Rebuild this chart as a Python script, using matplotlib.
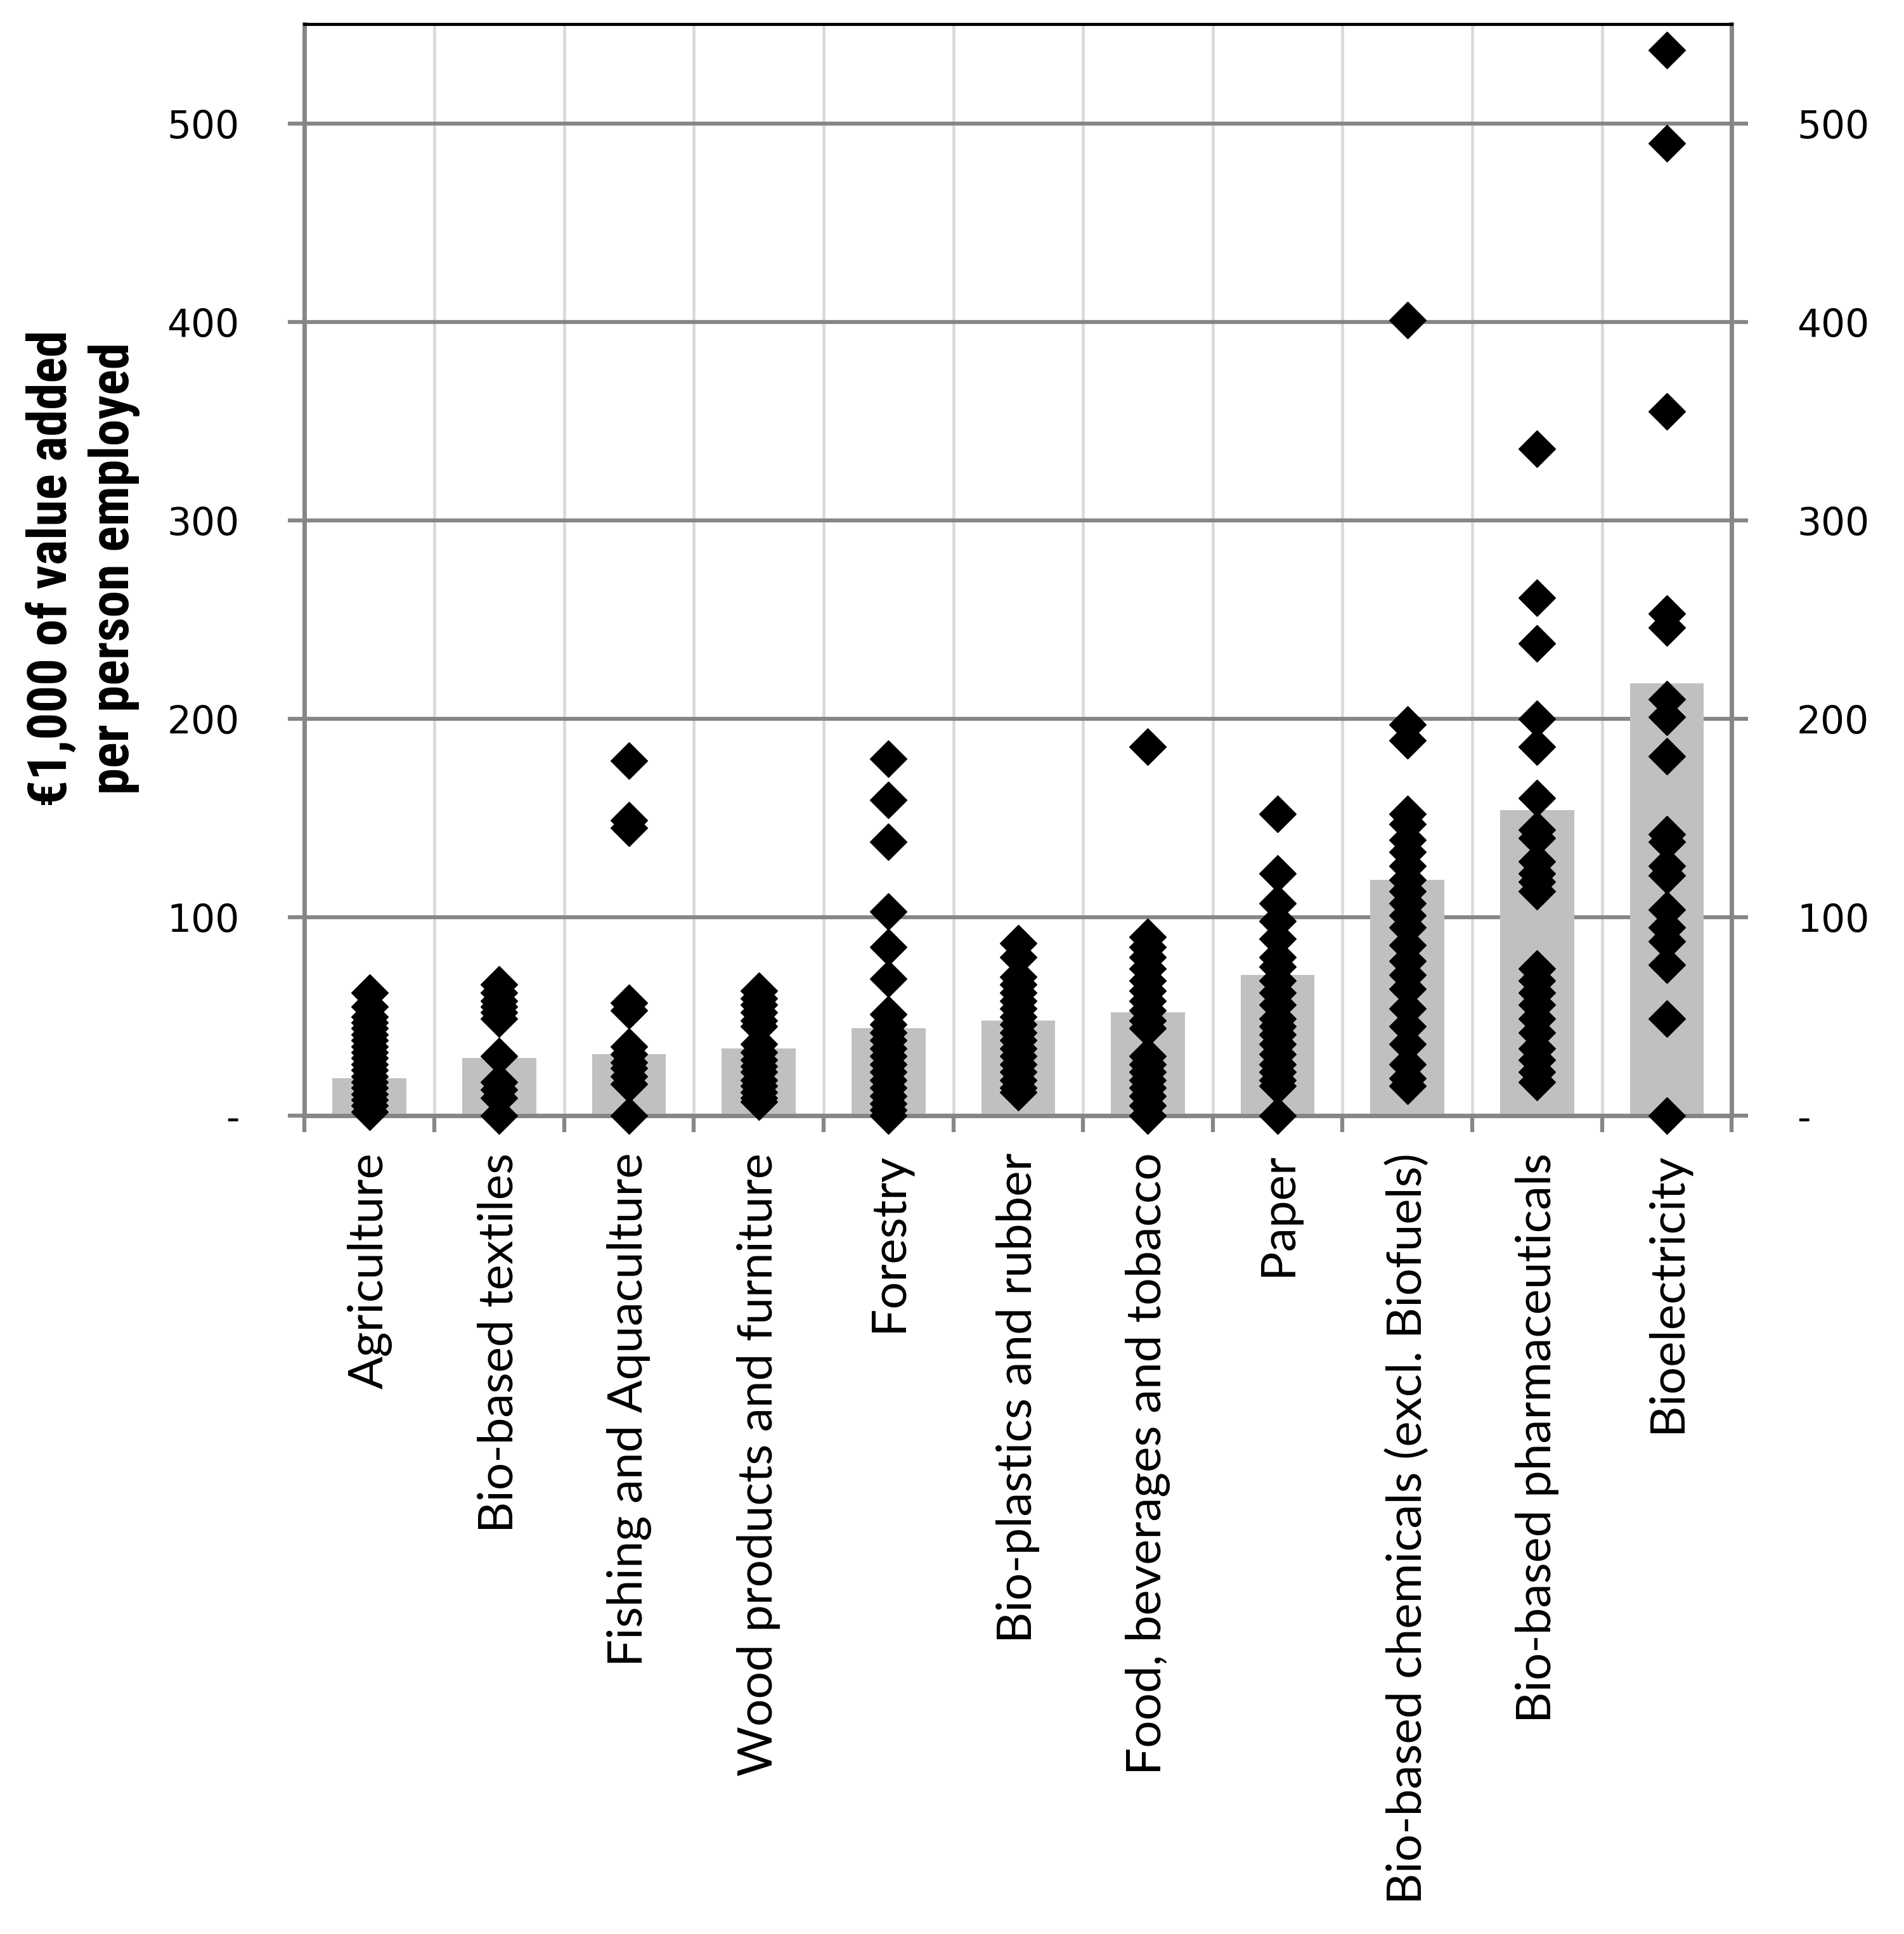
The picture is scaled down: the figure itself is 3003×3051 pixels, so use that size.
import matplotlib
matplotlib.use('Agg')
import matplotlib.pyplot as plt
import numpy as np

# sector names (x axis)
categories = ['Agriculture', 'Bio-based textiles', 'Fishing and Aquaculture',
              'Wood products and furniture', 'Forestry', 'Bio-plastics and rubber',
              'Food, beverages and tobacco', 'Paper', 'Bio-based chemicals (excl. Biofuels)',
              'Bio-based pharmaceuticals', 'Bioelectricity']

# grey bars (EU average)
bar_values = [19, 29, 31, 34, 44, 48, 52, 71, 119, 154, 218]

# black diamonds, one list per sector (member states)
agriculture = [62, 55, 50, 47, 44, 41, 38, 35, 32, 29, 26, 23, 20, 17, 14, 11, 8, 5, 2]
textiles = [66, 62, 58, 55, 52, 49, 30, 17, 13, 9, 0]
fishing = [179, 149, 145, 57, 53, 35, 31, 27, 24, 20, 16, 0]
wood = [63, 59, 56, 52, 48, 45, 36, 32, 28, 25, 22, 18, 15, 12, 9, 7]
forestry = [180, 159, 138, 103, 85, 69, 51, 46, 42, 38, 34, 30, 26, 22, 18, 14, 10, 6, 3, 0]
plastics = [87, 80, 70, 66, 62, 58, 54, 50, 46, 42, 38, 34, 30, 26, 22, 18, 14, 12]
food = [186, 90, 85, 80, 74, 68, 63, 58, 53, 48, 44, 30, 26, 22, 18, 14, 10, 5, 0]
paper = [152, 122, 107, 98, 89, 80, 75, 68, 62, 56, 49, 45, 41, 36, 31, 26, 22, 18, 15, 0]
chemicals = [401, 197, 189, 152, 147, 139, 133, 126, 119, 113, 107, 101, 95, 86, 78, 71,
             64, 54, 45, 36, 26, 19, 15]
pharma = [336, 261, 238, 200, 186, 160, 144, 140, 128, 122, 118, 113, 74, 68, 62, 56,
          49, 42, 34, 28, 22, 17]
bioelectricity = [537, 490, 355, 253, 246, 210, 201, 181, 142, 138, 126, 121, 104, 95,
                  88, 76, 49, 0]

points = [agriculture, textiles, fishing, wood, forestry, plastics, food, paper,
          chemicals, pharma, bioelectricity]

ytick_vals = [0, 100, 200, 300, 400, 500]
ytick_labels = ['-', '100', '200', '300', '400', '500']

GRID = '#868686'
LIGHT = '#d9d9d9'

fig = plt.figure(figsize=(30.03, 30.51), dpi=100)
ax = fig.add_axes([0.160, 0.4231, 0.7495, 0.5644])

xpos = np.arange(len(categories))
ax.bar(xpos, bar_values, width=0.57, color='#c0c0c0', zorder=2)
for i, vals in enumerate(points):
    ax.plot(np.full(len(vals), xpos[i]), vals, linestyle='none', marker='D',
            ms=30, color='black', mec='black', mew=1, zorder=3, clip_on=False)

ax.set_xlim(-0.5, len(categories) - 0.5)
ax.set_ylim(0, 550)

# y axis on both sides
ax.set_yticks(ytick_vals)
ax.set_yticklabels(ytick_labels)
ax.tick_params(axis='y', which='major', left=True, right=True, labelleft=True,
               labelright=True, direction='out', length=19, width=4.5, color=GRID,
               labelsize=43, pad=55)
for lab in ax.get_yticklabels():
    lab.set_family('DejaVu Sans')

ax.yaxis.grid(True, color=GRID, lw=4.5, zorder=0)

# x axis: labels at centres, ticks and vertical grid at boundaries
ax.set_xticks(xpos)
ax.set_xticklabels(categories, rotation=90, fontsize=55, family=['Lato', 'DejaVu Sans'])
ax.set_xticks(np.arange(-0.5, len(categories), 1), minor=True)
ax.tick_params(axis='x', which='major', length=0, pad=42)
ax.tick_params(axis='x', which='minor', direction='out', length=19, width=4.5, color=GRID)
ax.xaxis.grid(True, which='minor', color=LIGHT, lw=3.3, zorder=0)
ax.xaxis.grid(False, which='major')
ax.set_axisbelow(True)

ax.spines['top'].set_color('black')
ax.spines['top'].set_linewidth(3.5)
for s in ['left', 'right', 'bottom']:
    ax.spines[s].set_color(GRID)
    ax.spines[s].set_linewidth(5)

fig.text(0.0437, 0.706, '€1,000 of value added\nper person employed', rotation=90,
         ha='center', va='center', fontsize=61, fontweight='bold',
         family=['Liberation Sans Narrow', 'Roboto Condensed', 'DejaVu Sans'],
         linespacing=1.25)

fig.savefig('out.png', dpi=100, facecolor='white')
